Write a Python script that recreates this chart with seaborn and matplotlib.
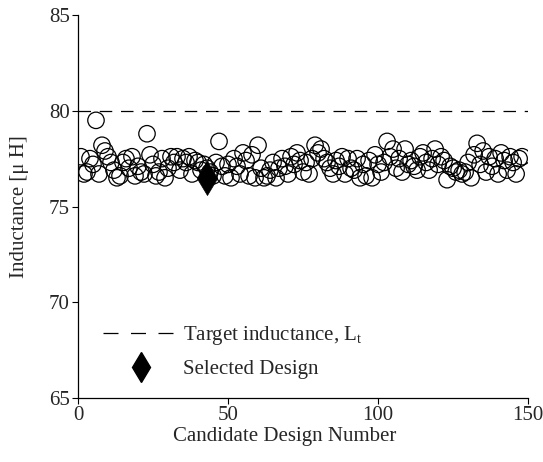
import numpy as np
import pandas as pd
import matplotlib
matplotlib.use('Agg')
import matplotlib.pyplot as plt
import seaborn as sns
from matplotlib.lines import Line2D

# inductance of each candidate design [uH]
inductance = [
    77.6, 76.7, 76.8, 77.5, 77.2, 79.5, 76.7, 78.2, 77.9, 77.6,
    77.3, 76.9, 76.5, 76.6, 77.3, 77.5, 77.0, 77.6, 76.6, 77.1,
    76.8, 76.7, 78.8, 77.7, 77.2, 76.6, 76.8, 77.5, 76.5, 77.0,
    77.6, 77.3, 77.6, 76.9, 77.5, 77.3, 77.6, 76.7, 77.4, 77.3,
    76.9, 77.2, 77.0, 76.8, 76.6, 77.3, 78.4, 77.1, 76.6, 77.2,
    76.5, 77.5, 77.1, 76.7, 77.8, 77.4, 76.6, 77.7, 76.5, 78.2,
    77.0, 76.5, 76.6, 76.9, 77.3, 76.5, 77.0, 77.5, 77.1, 76.7,
    77.6, 77.2, 77.8, 77.4, 76.8, 77.3, 76.7, 77.5, 78.2, 77.8,
    78.0, 77.5, 77.3, 77.0, 76.7, 77.4, 77.1, 77.6, 76.7, 77.5,
    77.0, 76.9, 77.5, 76.5, 77.2, 76.6, 77.4, 76.5, 77.7, 77.2,
    76.8, 77.3, 78.4, 77.6, 78.0, 77.0, 77.5, 76.8, 78.0, 77.2,
    77.4, 77.1, 76.9, 77.6, 77.8, 77.3, 76.9, 77.5, 78.0, 77.2,
    77.6, 77.4, 76.4, 77.1, 77.0, 76.8, 76.9, 76.7, 76.8, 77.3,
    76.5, 77.7, 78.3, 77.2, 77.9, 76.8, 77.6, 77.1, 77.5, 76.7,
    77.8, 77.4, 76.9, 77.6, 77.3, 76.7, 77.5, 77.6,
]
design_number = list(range(1, len(inductance) + 1))

target_inductance = 80
selected_design = [43]
selected_inductance = [76.5]

df = pd.DataFrame({'design': design_number, 'L': inductance})
sel = pd.DataFrame({'design': selected_design, 'L': selected_inductance})

sns.set_style('ticks')
plt.rcParams['font.family'] = ['Liberation Serif', 'DejaVu Serif']
plt.rcParams['mathtext.fontset'] = 'custom'
plt.rcParams['mathtext.rm'] = 'Liberation Serif'
plt.rcParams['mathtext.it'] = 'Liberation Serif'

fig = plt.figure(figsize=(5.43, 4.62), dpi=100)
ax = fig.add_axes([0.1436, 0.1385, 0.829, 0.829])

sns.scatterplot(data=df, x='design', y='L', ax=ax, marker='o', s=140,
                facecolor='none', edgecolor='black', linewidth=0.9, zorder=2)
ax.axhline(target_inductance, color='black', linestyle=(0, (10, 7)),
           linewidth=0.9, zorder=1)
sns.scatterplot(data=sel, x='design', y='L', ax=ax, marker='d', s=300,
                color='black', edgecolor='black', linewidth=0.5, zorder=3)

ax.set_xlim(0, 150)
ax.set_ylim(65, 85)
ax.set_xticks([0, 50, 100, 150])
ax.set_yticks([65, 70, 75, 80, 85])
ax.set_xlabel('Candidate Design Number', fontsize=15, labelpad=1, x=0.46)
ax.set_ylabel('Inductance [μ H]', fontsize=15, labelpad=14)
ax.tick_params(labelsize=15, direction='out', length=4, width=0.8,
               color='black', pad=2)
for s in ['left', 'bottom']:
    ax.spines[s].set_color('black')
    ax.spines[s].set_linewidth(0.9)
sns.despine(ax=ax)

handles = [
    Line2D([], [], color='black', linestyle=(0, (12, 10)), linewidth=0.9),
    Line2D([], [], color='black', marker='d', linestyle='none',
           markersize=15),
]
labels = ['Target inductance, L$_\\mathregular{t}$', 'Selected Design']
ax.legend(handles, labels, loc='lower left', bbox_to_anchor=(0.015, 0.0),
          frameon=False, fontsize=15, handlelength=3.6, handletextpad=0.2,
          labelspacing=0.6)

fig.savefig('out.png', dpi=100)
